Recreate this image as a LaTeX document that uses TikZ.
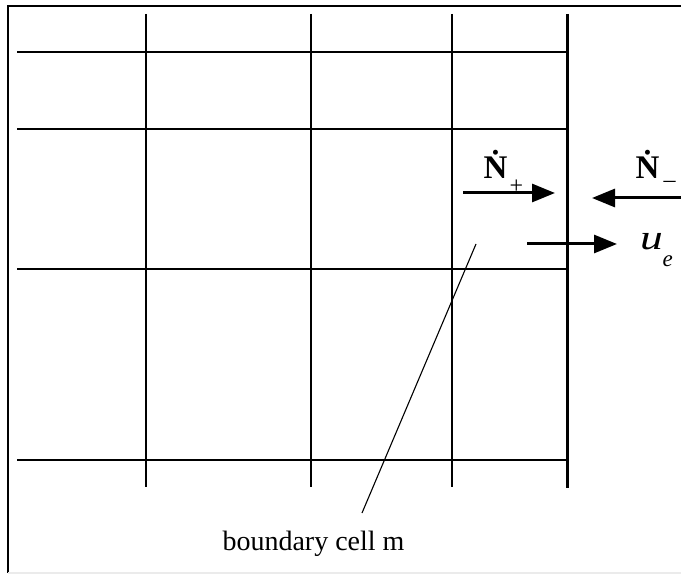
\documentclass[tikz,border=0pt]{standalone}
\usepackage{fontspec}
\setmainfont{Liberation Serif}
\usetikzlibrary{arrows.meta}
\begin{document}
\begin{tikzpicture}[x=1pt,y=-1pt,
  gridline/.style={line width=1.2pt,black},
  wall/.style={line width=3pt,black},
  frameline/.style={line width=2pt,black},
  flux/.style={line width=3pt,-{Triangle[length=23pt,width=18pt]}},
  lbl/.style={inner sep=0pt,outer sep=0pt},
]
\useasboundingbox (0,0) rectangle (681,575);
% frame
\draw[frameline] (681,6) -- (8,6) -- (8,573);
\draw[line width=1.5pt,black!8] (8,573) -- (681,573);
% grid
\foreach \y in {52,129,269,460} \draw[gridline] (17,\y) -- (567,\y);
\foreach \x in {146,311,452} \draw[gridline] (\x,14) -- (\x,487);
\draw[wall] (567,14) -- (567,488);
% pointer line
\coordinate (ptrA) at (476,244);
\coordinate (ptrB) at (362,513);
\draw[line width=1.1pt] (ptrA) -- (ptrB);
\node[lbl,anchor=base] (cell) at (313.5,550) {\fontsize{28}{30}\selectfont boundary cell m};
% arrows
\coordinate (npS) at (463,193);
\coordinate (npE) at (555,193);
\draw[flux] (npS) -- (npE);
\coordinate (nmS) at (681,198);
\coordinate (nmE) at (592,198);
\draw[flux] (nmS) -- (nmE);
\coordinate (ueS) at (527,244);
\coordinate (ueE) at (617,244);
\draw[flux] (ueS) -- (ueE);
% labels
\node[lbl,anchor=base west] (Np) at (483.5,178.5) {\fontsize{33}{33}\selectfont\bfseries \.N};
\node[lbl] (Npsub) at (516.5,187) {\fontsize{24}{24}\selectfont +};
\node[lbl,anchor=base west] (Nm) at (635.5,178.5) {\fontsize{33}{33}\selectfont\bfseries \.N};
\node[lbl] (Nmsub) at (669.5,184.5) {\fontsize{24}{24}\selectfont –};
\node[lbl,anchor=base west] (ue) at (640,250) {\fontsize{35}{35}\selectfont\itshape \scalebox{1.3}[1]{u}};
\node[lbl,anchor=base west] (uesub) at (662.5,266) {\fontsize{23}{23}\selectfont\itshape e};
\end{tikzpicture}
\end{document}
